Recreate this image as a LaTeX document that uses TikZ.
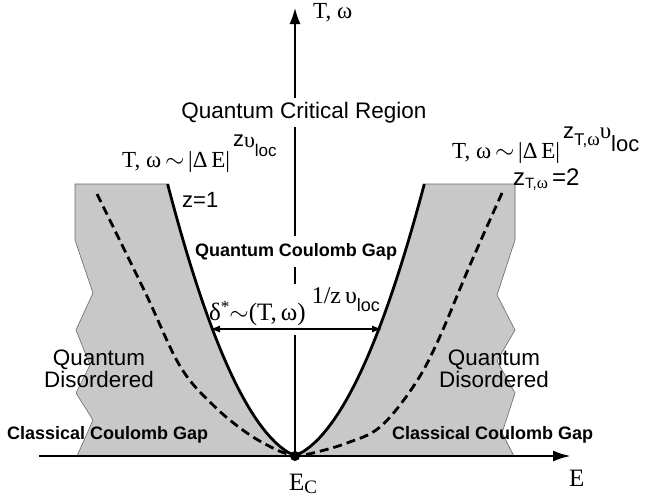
\documentclass[tikz,border=0pt]{standalone}
\usepackage{fontspec}
\setmainfont{Liberation Serif}
\setsansfont{Liberation Sans}
\usetikzlibrary{arrows.meta}
\newcommand{\fsz}[1]{\fontsize{#1}{#1}\selectfont}
\begin{document}
\begin{tikzpicture}[x=1pt,y=-1pt,
  region/.style={fill={rgb,255:red,200;green,200;blue,200}, draw=black!60, line width=0.6pt, line join=miter},
  vaxis/.style={line width=1.6pt, -{Latex[length=16pt,width=11pt]}},
  haxis/.style={line width=2.6pt, -{Latex[length=18pt,width=11pt]}, shorten >=-4pt},
  gapcurve/.style={line width=2.8pt, line join=round},
  dashcurve/.style={line width=2.8pt, dash pattern=on 9pt off 5pt},
  dimarrow/.style={line width=1.1pt, {Latex[length=10pt,width=7pt]}-{Latex[length=10pt,width=7pt]}},
  wlabel/.style={fill=white, inner xsep=2pt},
  plain/.style={inner sep=0pt},
  declare function={gw(\h)=8.65*(sqrt(\h+3.5)-1.8708);},
]
\useasboundingbox (0,0) rectangle (649,499);
\coordinate (O) at (295,456);
\coordinate (Tt) at (295,8);
\coordinate (El) at (39,456);
\coordinate (Er) at (567,456);
\coordinate (dl) at (210,329);
\coordinate (dr) at (382,329);

% vertical axis
\draw[vaxis] (O) -- (Tt);

% white labels on the axis
\node[wlabel, inner ysep=4pt, anchor=base] (qcr) at (304,118) {\sffamily\fsz{22.5}Quantum Critical Region};
\node[wlabel, inner ysep=7pt, anchor=base] (qcg) at (296,256) {\sffamily\bfseries\fsz{18}Quantum Coulomb Gap};
\node[wlabel, inner ysep=3pt, text depth=12pt, anchor=base west] (delta) at (207,320)
  {\fsz{25}δ\raisebox{8pt}{\fsz{17}*}$\sim$(T,\,ω)\hspace{6pt}\raisebox{17pt}{\fsz{24}1/z\,υ\raisebox{-8pt}{\sffamily\fsz{18}loc}}};

% shaded regions
\path[region] (75,184) -- (167,184)
  -- plot[domain=272:0, samples=60] ({295-gw(\x)}, {456-\x})
  -- (77,456) -- (93,420) -- (76,393) -- (90,365) -- (76,330) -- (93,293) -- (75,240) -- cycle;
\path[region] (515,184) -- (425,184)
  -- plot[domain=272:0, samples=60] ({295+1.015*gw(\x)}, {456-\x})
  -- (514,456) -- (502,433) -- (515,393) -- (497,361) -- (515,330) -- (497,295) -- (515,240) -- cycle;

% gap curves
\draw[gapcurve] plot[domain=272:0, samples=60] ({295-gw(\x)}, {456-\x});
\draw[gapcurve] plot[domain=272:0, samples=60] ({295+1.015*gw(\x)}, {456-\x});

% dashed curves
\draw[dashcurve] plot[smooth, tension=0.6] coordinates {(97,194) (145,292) (180,366) (213,405) (247,433) (277,450) (295,456)};
\draw[dashcurve] plot[smooth, tension=0.6] coordinates {(502,193) (470,265) (437,343) (413,387) (380,427) (347,443) (313,453) (295,456)};

% horizontal axis
\draw[haxis] (El) -- (Er);

% double arrow
\draw[dimarrow] (dl) -- (dr);

% critical point
\fill (O) circle (5pt);

% labels
\node[plain, anchor=base west] (Tw) at (313,18) {\fsz{23}T, ω};
\node[plain, anchor=base west] (fl) at (122,167)
  {\fsz{23}T, ω\,$\sim$\,|Δ\,E|\hspace{3pt}\raisebox{21pt}{\sffamily\fsz{22}z}\raisebox{20pt}{\rmfamily\fsz{22}υ}\raisebox{11pt}{\sffamily\fsz{17}loc}};
\node[plain, anchor=base west] (fr) at (452,158)
  {\fsz{23}T, ω\,$\sim$\,|Δ\,E|\hspace{3pt}\raisebox{20pt}{\sffamily\fsz{22}z}\raisebox{13pt}{\sffamily\fsz{17}T,}\raisebox{13pt}{\fsz{19}ω}\raisebox{20pt}{\rmfamily\fsz{23}υ}\raisebox{7pt}{\sffamily\fsz{22}loc}};
\node[plain, anchor=base west] (z1) at (182,207) {\sffamily\fsz{22}z=1};
\node[plain, anchor=base west] (z2) at (513,185)
  {\sffamily\fsz{24}z\raisebox{-3pt}{\fsz{15}T,}\raisebox{-3pt}{\rmfamily\fsz{17}ω}\,=2};
\node[plain, align=center, anchor=center] (qdl) at (99,369) {\sffamily\fontsize{22.4}{21}\selectfont Quantum\\\sffamily\fontsize{22.4}{21}\selectfont Disordered};
\node[plain, align=center, anchor=center] (qdr) at (494,369) {\sffamily\fontsize{22.4}{21}\selectfont Quantum\\\sffamily\fontsize{22.4}{21}\selectfont Disordered};
\node[plain, anchor=base west] (ccl) at (7,439) {\sffamily\bfseries\fsz{18}Classical Coulomb Gap};
\node[plain, anchor=base west] (ccr) at (392,439) {\sffamily\bfseries\fsz{18}Classical Coulomb Gap};
\node[plain, anchor=base west] (Ec) at (289,490) {\fsz{25}E\raisebox{-3pt}{\fsz{19}C}};
\node[plain, anchor=base west] (Elab) at (569,486) {\fsz{25}E};
\end{tikzpicture}
\end{document}
